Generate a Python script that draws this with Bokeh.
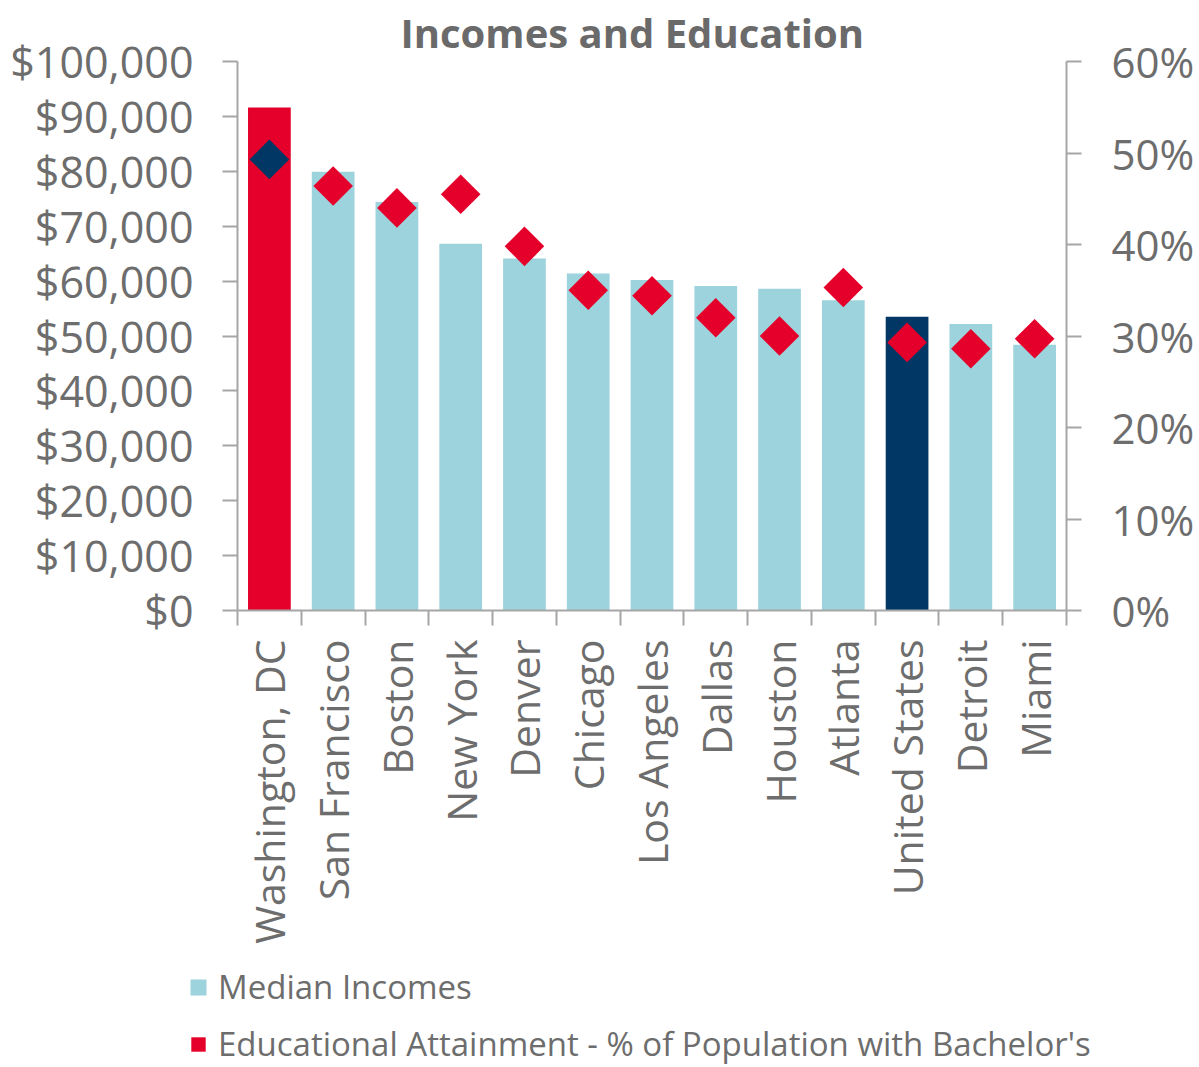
import math
from bokeh.plotting import figure
from bokeh.models import (Range1d, LinearAxis, FixedTicker,
                          NumeralTickFormatter, PrintfTickFormatter, Legend, LegendItem,
                          ColumnDataSource)
from bokeh.embed import file_html
from bokeh.resources import INLINE

# ---- data ----
cities = ["Washington, DC", "San Francisco", "Boston", "New York", "Denver", "Chicago",
          "Los Angeles", "Dallas", "Houston", "Atlanta", "United States", "Detroit", "Miami"]
median_income = [91600, 79900, 74400, 66800, 64100, 61400, 60200, 59100, 58600, 56500,
                 53500, 52200, 48400]
bachelor_pct = [49.3, 46.4, 44.0, 45.5, 39.8, 35.0, 34.4, 32.0, 30.0, 35.3, 29.3, 28.6, 29.7]
income_ticks = [0, 10000, 20000, 30000, 40000, 50000, 60000, 70000, 80000, 90000, 100000]
pct_ticks = [0, 10, 20, 30, 40, 50, 60]
title_text = "Incomes and Education"
series_names = ["Median Incomes", "Educational Attainment - % of Population with Bachelor's"]

# ---- styles ----
RED = "#E4002B"
BLUE = "#9DD3DC"
NAVY = "#003764"
TXT = "#6d6d6d"
AX = "#a6a6a6"
FONT = "Open Sans"

n = len(cities)
slot_center = [i + 0.5 for i in range(n)]          # category slots on a 0..n scale
slot_edges = list(range(n + 1))
bar_colors = [RED if c == "Washington, DC" else NAVY if c == "United States" else BLUE for c in cities]
dot_colors = [NAVY if c == "Washington, DC" else RED for c in cities]

src = ColumnDataSource(dict(x=slot_center, city=cities, income=median_income, pct=bachelor_pct,
                            bar_color=bar_colors, dot_color=dot_colors))

p = figure(width=1199, height=950, output_backend="svg", toolbar_location=None,
           x_range=Range1d(0, n), y_range=Range1d(income_ticks[0], income_ticks[-1]),
           x_axis_location=None, y_axis_location="left",
           min_border_left=237, min_border_right=133, min_border_top=60, min_border_bottom=340)
p.outline_line_color = None
p.xgrid.visible = False
p.ygrid.visible = False
p.background_fill_color = "white"
p.border_fill_color = "white"

# title
p.title.text = title_text
p.title.text_font = FONT
p.title.text_font_size = "40px"
p.title.text_font_style = "bold"
p.title.text_color = "#6a6a6a"
p.title.align = "left"
p.title.offset = 163
p.title.standoff = 4

# left axis
ya = p.yaxis[0]
ya.ticker = FixedTicker(ticks=income_ticks)
ya.formatter = NumeralTickFormatter(format="$0,0")
ya.major_tick_out = 15
ya.major_tick_in = 0
ya.minor_tick_line_color = None
ya.axis_line_color = AX
ya.axis_line_width = 2
ya.major_tick_line_color = AX
ya.major_tick_line_width = 2
ya.major_label_text_font = FONT
ya.major_label_text_font_size = "43px"
ya.major_label_text_color = TXT
ya.major_label_standoff = 29

# right axis
p.extra_y_ranges = {"pct": Range1d(pct_ticks[0], pct_ticks[-1])}
ra = LinearAxis(y_range_name="pct", ticker=FixedTicker(ticks=pct_ticks),
                formatter=PrintfTickFormatter(format="%d%%"),
                major_tick_out=15, major_tick_in=0, minor_tick_line_color=None,
                axis_line_color=AX, axis_line_width=2, major_tick_line_color=AX,
                major_tick_line_width=2, major_label_text_font=FONT,
                major_label_text_font_size="42px", major_label_text_color=TXT,
                major_label_standoff=30)
p.add_layout(ra, "right")

# bottom axis: tick marks at category boundaries (no labels)
ta = LinearAxis(ticker=FixedTicker(ticks=slot_edges),
                major_tick_out=15, major_tick_in=0, minor_tick_line_color=None,
                axis_line_color=AX, axis_line_width=2, major_tick_line_color=AX,
                major_tick_line_width=2, major_label_text_font_size="0px",
                major_label_standoff=0)
p.add_layout(ta, "below")

# category labels at slot centers
ca = LinearAxis(ticker=FixedTicker(ticks=slot_center),
                major_label_overrides={x: c for x, c in zip(slot_center, cities)},
                axis_line_color=None, major_tick_line_color=None, minor_tick_line_color=None,
                major_tick_out=0, major_tick_in=0, major_label_orientation=math.pi / 2,
                major_label_text_font=FONT, major_label_text_font_size="41px",
                major_label_text_color=TXT, major_label_standoff=14)
p.add_layout(ca, "below")

p.vbar(x="x", top="income", width=0.67, source=src, fill_color="bar_color", line_color=None)
p.scatter(x="x", y="pct", y_range_name="pct", marker="square", angle=math.pi / 4,
          size=28, fill_color="dot_color", line_color=None, source=src)

# ---- legend strip below the chart (separate root, so its frame spans the full width) ----
# its ranges lie away from the data, so its renderers only supply the legend swatches
q = figure(width=1199, height=116, output_backend="svg", toolbar_location=None,
           x_range=Range1d(-3, -2), y_range=Range1d(-3, -2),
           x_axis_location=None, y_axis_location=None,
           min_border_left=0, min_border_right=0, min_border_top=0, min_border_bottom=0)
q.outline_line_color = None
q.xgrid.visible = False
q.ygrid.visible = False
swatch_bar = q.vbar(x="x", top="income", width=0.67, source=src,
                    fill_color="bar_color", line_color=None)
swatch_dot = q.scatter(x="x", y="pct", marker="square", angle=math.pi / 4, size=28,
                       source=src, fill_color="dot_color", line_color=None)

common = dict(orientation="vertical", label_text_font=FONT, label_text_font_size="33px",
              label_text_color=TXT, padding=0, margin=0, spacing=0,
              border_line_color=None, background_fill_alpha=0)
leg_a = Legend(items=[LegendItem(label=series_names[0], renderers=[swatch_bar], index=1)],
               location=(188, 57), glyph_width=20, glyph_height=20, label_standoff=10, **common)
leg_b = Legend(items=[LegendItem(label=series_names[1], renderers=[swatch_dot], index=1)],
               location=(180, 0), glyph_width=36, glyph_height=36, label_standoff=2, **common)
q.add_layout(leg_a)
q.add_layout(leg_b)

open("out.html", "w").write(file_html([p, q], INLINE))
